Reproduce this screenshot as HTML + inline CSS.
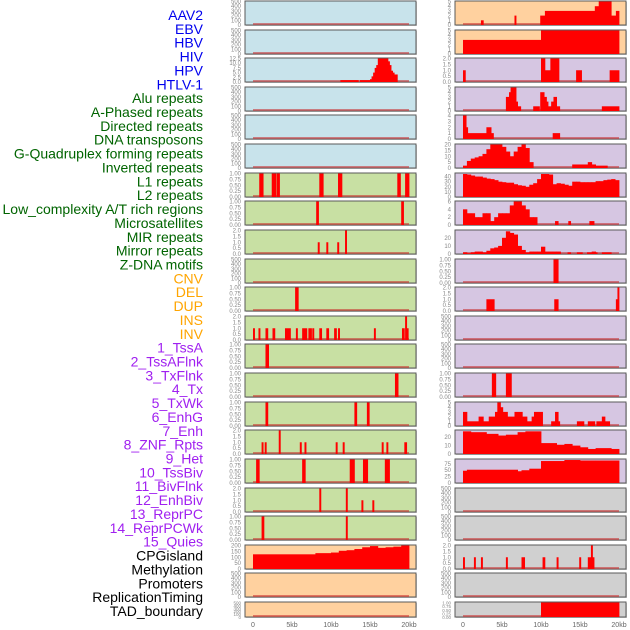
<!DOCTYPE html>
<html><head><meta charset="utf-8">
<style>
body{margin:0;background:#fff;}
svg{display:block;font-family:"Liberation Sans",sans-serif;}
</style></head>
<body>
<svg id="chart" width="630" height="630" viewBox="0 0 630 630" xmlns="http://www.w3.org/2000/svg"></svg>
<script>
// ---- Data ----
const labelNames = ["AAV2","EBV","HBV","HIV","HPV","HTLV-1","Alu repeats","A-Phased repeats","Directed repeats","DNA transposons","G-Quadruplex forming repeats","Inverted repeats","L1 repeats","L2 repeats","Low_complexity A/T rich regions","Microsatellites","MIR repeats","Mirror repeats","Z-DNA motifs","CNV","DEL","DUP","INS","INV","1_TssA","2_TssAFlnk","3_TxFlnk","4_Tx","5_TxWk","6_EnhG","7_Enh","8_ZNF_Rpts","9_Het","10_TssBiv","11_BivFlnk","12_EnhBiv","13_ReprPC","14_ReprPCWk","15_Quies","CPGisland","Methylation","Promoters","ReplicationTiming","TAD_boundary"];
const labelGroups = ["v","v","v","v","v","v","r","r","r","r","r","r","r","r","r","r","r","r","r","s","s","s","s","s","c","c","c","c","c","c","c","c","c","c","c","c","c","c","c","k","k","k","k","k"];
const xTickKb = [0,5,10,15,20];
const xTickLabels = ["0","5kb","10kb","15kb","20kb"];

const tEmpty = [0,100,200,300,400,500];
const t1 = [0,0.25,0.5,0.75,1.0];
const t2 = [0,0.5,1.0,1.5,2.0];
const t5 = [0,1,2,3,4,5];

const L3 = [[11.2,13.5,1],[13.7,15,1],[15,15.2,1.5],[15.2,15.4,3],[15.4,15.6,5],[15.6,15.8,7.5],[15.8,16,9],[16,17.3,12.5],[17.3,17.5,11],[17.5,17.7,9],[17.7,17.9,6],[17.9,18.1,5],[18.1,18.5,4]];
const L7 = [[0.8,1.3,1],[2.4,2.9,1],[3.0,3.4,1],[8.5,9.0,1],[10.9,11.4,1],[18.5,18.9,1],[19.5,20,1]];
const L8 = [[8.1,8.4,1],[19.0,19.3,1]];
const L9 = [[8.3,8.5,1],[9.4,9.6,1],[10.8,11.0,1],[11.8,12.0,2]];
const L11 = [[5.4,5.8,1]];
const L12 = [[0.0,0.2,1],[0.7,0.9,1],[1.6,1.9,1],[2.5,2.8,1],[4.1,4.8,1],[5.5,5.7,1],[6.3,6.9,1],[7.1,7.5,1],[7.6,7.8,1],[8.5,8.8,1],[9.4,9.7,1],[10.4,10.7,1],[10.9,11.1,1],[15.5,15.7,1],[19.1,19.4,1],[19.5,19.7,2],[19.7,19.9,1]];
const L13 = [[1.6,2.0,1]];
const L14 = [[18.2,18.6,1]];
const L15 = [[1.6,1.9,1],[13.0,13.3,1],[14.6,14.9,1]];
const L16 = [[1.1,1.3,1],[1.5,1.7,1],[3.3,3.5,2],[6.0,6.2,1],[6.6,6.8,1],[10.6,10.8,1],[11.5,11.7,1],[16.5,16.7,1],[17.1,17.3,1],[19.4,19.7,1]];
const L17 = [[0.4,0.8,1],[6.3,6.7,1],[12.4,13.0,1],[14.1,14.7,1],[16.9,17.5,1]];
const L18 = [[8.5,8.7,2],[11.9,12.1,2],[13.9,14.1,1],[15.3,15.5,1]];
const L19 = [[1.1,1.4,1],[11.9,12.1,1]];
const L20 = [[0,8,125],[8,10,135],[10,11,140],[11,12,155],[12,13,160],[13,14,170],[14,15,185],[15,16,195],[16,17,180],[17,18,185],[18,19,190],[19,20,200]];

const R1 = [[2.3,2.6,1],[6.6,6.8,2],[9.9,10.5,2],[10.5,16.9,3],[16.9,17.4,4],[17.4,19.0,5],[19.0,19.6,2],[19.6,20,3]];
const R2 = [[0,10,3],[10,20,5]];
const R3 = [[0,0.3,1],[10,10.5,2],[10.5,11.2,1],[11.2,12.3,2],[14.5,15.2,1],[18.8,20,1]];
const R4 = [[5.5,5.9,3],[5.9,6.1,4],[6.1,6.8,5],[6.8,7.0,2],[7.0,7.4,1],[9.0,9.8,1],[9.9,10.4,4],[10.4,10.7,3],[10.7,10.9,2],[10.9,11.3,1],[11.3,11.6,2],[11.6,12.0,3],[12.0,12.4,1],[17.8,20,1]];
const R5 = [[0,0.4,4],[0.4,0.6,2],[0.6,3.0,1],[3.0,3.6,2],[3.6,3.9,1],[11.5,12.4,1]];
const R6bins = [2,6,8,9,10,12,16,20,20,20,18,14,10,14,18,20,17,5];
const R6 = [[14,16,3],[16,16.5,5],[16.5,17,3],[17,18.5,2]];
const R7bins = [45,44,42,40,40,38,36,35,33,30,29,28,28,25,23,22,20,24,27,35,45,45,44,25,27,26,24,22,30,30,29,29,29,29,31,31,33,34,35,33];
const R8bins = [4,3,3,2,2,3,3,1,2,3,3,3,5,6,6,5,4,2,2];
const R8 = [[11.8,12.2,1],[13.5,13.8,1],[16.2,16.8,1]];
const R9bins = [2,1,2,3,3,2,4,7,8,10,20,28,26,24,10,5,2,3,3,3,9,3,3,3,3];
const R9 = [[13.4,13.8,2],[14.6,15.3,2],[15.9,17.2,2],[16.5,17.0,3],[17.8,19.0,2]];
const R10 = [[11.6,12.2,1]];
const R11 = [[3.0,4.0,1],[11.7,12.2,1],[19.6,19.8,1],[19.8,20,2]];
const R14 = [[3.7,4.2,1],[5.5,6.2,1]];
const R15 = [[0,0.5,3],[0.5,2.0,1],[2.0,2.6,2],[2.6,3.3,1],[3.3,4.1,2],[4.1,4.4,3],[4.4,4.8,5],[4.8,5.1,4],[5.1,5.7,3],[5.7,6.6,2],[6.6,7.6,3],[7.6,8.2,2],[8.2,8.8,1],[8.8,9.1,2],[9.1,10.2,3],[11.3,11.8,1],[11.8,12.2,3],[12.2,12.4,1],[14.6,15.5,1],[16.0,16.9,1],[17.1,17.8,1],[17.8,18.2,2],[18.2,18.8,1]];
const R16 = [[0,1,27],[1,3,26],[3,4.5,24],[4.5,5.5,22],[5.5,7,23],[7,8,26],[8,10,27],[10,12,13],[12,13,11],[13,14,12],[14,15,10],[15,16,8],[16,17,6],[17,19,7],[19,20,6]];
const R17 = [[0,0.5,48],[0.5,7,52],[7,7.5,46],[7.5,8.5,50],[8.5,10,56],[10,13,86],[13,15,90],[15,17,88],[17,20,88]];
const R20 = [[0,0.2,1],[1.4,1.6,1],[2.3,2.5,1],[5.5,5.7,1],[7.5,7.9,1],[10.2,10.5,1],[12.0,12.2,1],[14.9,15.1,1],[16.0,16.4,1],[16.4,16.6,2],[16.6,16.8,1]];
const R22 = [[10,20,1]];

function bins(arr){ return arr.map((v,i)=>[i*0.5,i*0.5+0.5,v]); }

const BLUE="#c8e3eb", GREEN="#c8e0a3", PEACH="#ffd19f", PURPLE="#d6c6e2", GREY="#d0d0d0";
const leftCol = [
 {bg:BLUE,t:tEmpty,ymax:500,d:[]},{bg:BLUE,t:tEmpty,ymax:500,d:[]},
 {bg:BLUE,t:[0,2.5,5,7.5,10,12.5],ymax:12.5,d:L3},
 {bg:BLUE,t:tEmpty,ymax:500,d:[]},{bg:BLUE,t:tEmpty,ymax:500,d:[]},{bg:BLUE,t:tEmpty,ymax:500,d:[]},
 {bg:GREEN,t:t1,ymax:1,d:L7},{bg:GREEN,t:t1,ymax:1,d:L8},{bg:GREEN,t:t2,ymax:2,d:L9},
 {bg:GREEN,t:tEmpty,ymax:500,d:[]},{bg:GREEN,t:t1,ymax:1,d:L11},{bg:GREEN,t:t2,ymax:2,d:L12},
 {bg:GREEN,t:t1,ymax:1,d:L13},{bg:GREEN,t:t1,ymax:1,d:L14},{bg:GREEN,t:t1,ymax:1,d:L15},
 {bg:GREEN,t:t2,ymax:2,d:L16},{bg:GREEN,t:t1,ymax:1,d:L17},{bg:GREEN,t:t2,ymax:2,d:L18},
 {bg:GREEN,t:t1,ymax:1,d:L19},
 {bg:PEACH,t:[0,50,100,150,200],ymax:200,d:L20},{bg:PEACH,t:tEmpty,ymax:500,d:[]},{bg:PEACH,t:tEmpty,ymax:500,d:[]}
];
const rightCol = [
 {bg:PEACH,t:t5,ymax:5,d:R1},{bg:PEACH,t:t5,ymax:5,d:R2},
 {bg:PURPLE,t:t2,ymax:2,d:R3},{bg:PURPLE,t:t5,ymax:5,d:R4},{bg:PURPLE,t:[0,1,2,3,4],ymax:4,d:R5},
 {bg:PURPLE,t:[0,5,10,15,20],ymax:20,d:bins(R6bins).concat(R6)},
 {bg:PURPLE,t:[0,10,20,30,40],ymax:46,d:bins(R7bins)},
 {bg:PURPLE,t:[0,2,4,6],ymax:6,d:bins(R8bins).concat(R8)},
 {bg:PURPLE,t:[0,10,20],ymax:29,d:bins(R9bins).concat(R9)},
 {bg:PURPLE,t:t1,ymax:1,d:R10},{bg:PURPLE,t:t2,ymax:2,d:R11},
 {bg:PURPLE,t:tEmpty,ymax:500,d:[]},{bg:PURPLE,t:tEmpty,ymax:500,d:[]},
 {bg:PURPLE,t:t1,ymax:1,d:R14},{bg:PURPLE,t:t5,ymax:5,d:R15},
 {bg:PURPLE,t:[0,10,20],ymax:28,d:R16},{bg:PURPLE,t:[0,25,50,75],ymax:92,d:R17},
 {bg:GREY,t:tEmpty,ymax:500,d:[]},{bg:GREY,t:tEmpty,ymax:500,d:[]},
 {bg:GREY,t:t2,ymax:2,d:R20},{bg:GREY,t:tEmpty,ymax:500,d:[]},{bg:GREY,t:t1,ymax:1,d:R22}
];

// ---- Drawing ----
const svg = document.getElementById('chart');
const NS = "http://www.w3.org/2000/svg";
function mk(tag, attrs, parent){ const e=document.createElementNS(NS,tag); for(const k in attrs) e.setAttribute(k,attrs[k]); (parent||svg).appendChild(e); return e; }
const groupColor = {v:"#0000ee",r:"#006400",s:"#ffa500",c:"#a020f0",k:"#000000"};

labelNames.forEach((name,i)=>{
  const t = mk('text',{x:203,y:20+i*13.86,'text-anchor':'end','font-size':14,fill:groupColor[labelGroups[i]]});
  
  
  t.textContent = name;
});

function fmt(v, ticks){
  const dec = ticks.some(x=>Math.abs(x*100-Math.round(x*100))<1e-6 && Math.round(x*100)%10!==0) ? 2 : (ticks.some(x=>x%1!==0)?1:0);
  return v.toFixed(dec);
}

function drawCol(col, x0, name){
  const W = 171, dx0 = x0+8, dx1 = x0+164;
  const xs = kb => dx0 + (kb/20)*(dx1-dx0);
  col.forEach((p,i)=>{
    const top = Math.round(i*28.62)+1;
    const h = (i===21) ? 15 : 24;
    const g = mk('g',{});
    
    
    mk('rect',{x:x0+1,y:top+1,width:W,height:h,fill:'#999','opacity':0.5},g);
    mk('rect',{x:x0,y:top,width:W,height:h,fill:p.bg,stroke:'#5a5a5a','stroke-width':1},g);
    const ys = v => top+h - (v/p.ymax)*(h-0.5);
    mk('line',{x1:xs(0),x2:xs(20),y1:top+h-1,y2:top+h-1,stroke:'rgba(200,40,40,0.55)','stroke-width':2},g);
    p.d.forEach(s=>{
      const r = mk('rect',{x:xs(s[0]),y:ys(s[2]),width:Math.max(1.5,xs(s[1])-xs(s[0])+0.4),height:top+h-ys(s[2]),fill:'#ff0000'},g);
      
      
    });
    const fs = (h<20)?4.5:6;
    p.t.forEach(v=>{
      const ty = ys(v);
      const t = mk('text',{x:x0-4,y:ty+2,'text-anchor':'end','font-size':fs,fill:'#888'},g);
      
      
      t.textContent = fmt(v,p.t);
    });
  });
  xTickKb.forEach((k,i)=>{
    const t = mk('text',{x:xs(k),y:627,'text-anchor':'middle','font-size':7,fill:'#666'});
    
    
    t.textContent = xTickLabels[i];
  });
}
drawCol(leftCol, 245, 'left');
drawCol(rightCol, 455, 'right');
</script>
</body></html>
